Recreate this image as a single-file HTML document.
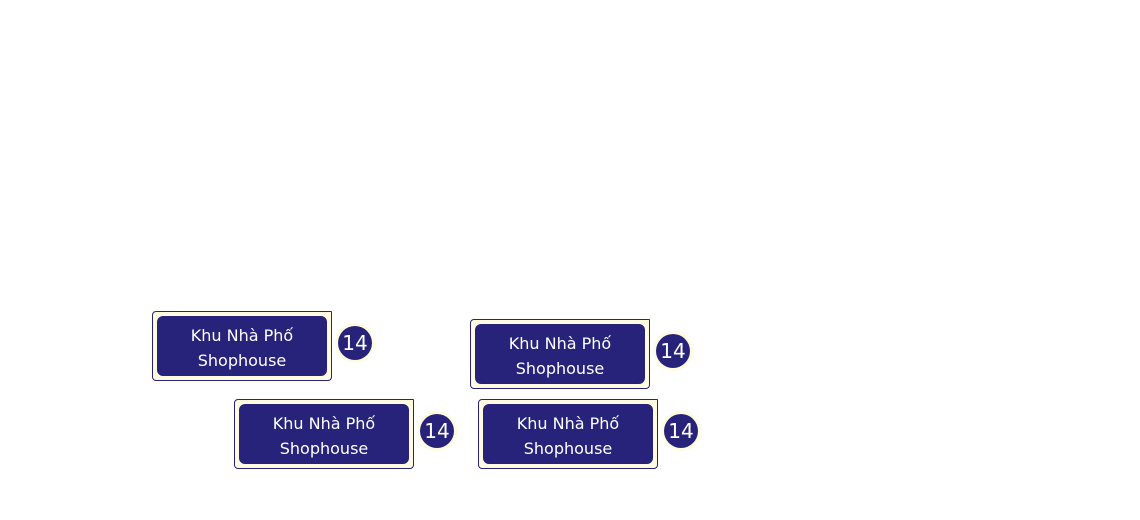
<!DOCTYPE html>
<html><head><meta charset="utf-8"><style>
body{margin:0;width:1140px;height:520px;background:#fff;position:relative;overflow:hidden;font-family:"DejaVu Sans","Liberation Sans",sans-serif}
.o{position:absolute;width:178px;height:68px;background:#fffbe0;border:1px solid #27237a;border-radius:4px 1px 4px 4px}
.i{position:absolute;left:4px;top:4px;width:170px;height:60px;background:#27237a;border-radius:6px;color:#fff;font-size:16px;line-height:25px;text-align:center;display:flex;flex-direction:column;justify-content:center;padding-top:3px;box-sizing:border-box}
.c{position:absolute;width:34px;height:34px;border-radius:50%;background:#27237a;color:#fff;font-size:20px;line-height:35px;text-align:center;box-shadow:0 0 0 3px #fffbe0}
</style></head><body>
<div class="o" style="left:152px;top:311px"><div class="i"><span>Khu Nhà Phố</span><span>Shophouse</span></div></div>
<div class="c" style="left:338px;top:326px">14</div>
<div class="o" style="left:470px;top:319px"><div class="i"><span>Khu Nhà Phố</span><span>Shophouse</span></div></div>
<div class="c" style="left:656px;top:334px">14</div>
<div class="o" style="left:234px;top:399px"><div class="i"><span>Khu Nhà Phố</span><span>Shophouse</span></div></div>
<div class="c" style="left:420px;top:414px">14</div>
<div class="o" style="left:478px;top:399px"><div class="i"><span>Khu Nhà Phố</span><span>Shophouse</span></div></div>
<div class="c" style="left:664px;top:414px">14</div>
</body></html>
